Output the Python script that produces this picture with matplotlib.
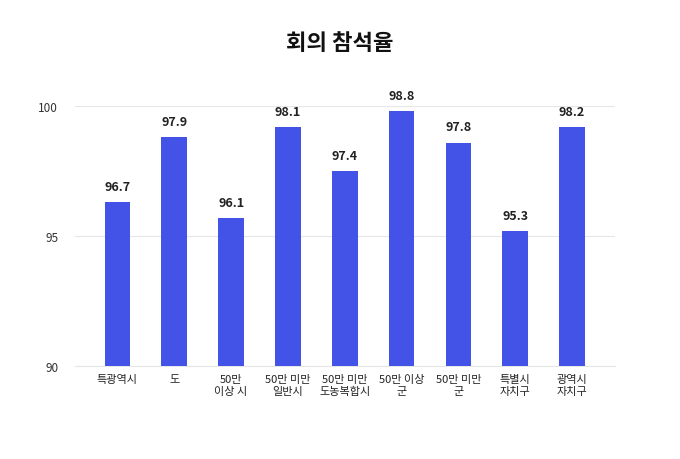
import matplotlib.pyplot as plt

plt.rcParams["font.family"] = "Noto Sans CJK KR"

categories = ["특광역시", "도", "50만\n이상 시", "50만 미만\n일반시", "50만 미만\n도농복합시",
              "50만 이상\n군", "50만 미만\n군", "특별시\n자치구", "광역시\n자치구"]
bar_values = [96.3, 98.8, 95.7, 99.2, 97.5, 99.8, 98.6, 95.2, 99.2]
label_texts = ["96.7", "97.9", "96.1", "98.1", "97.4", "98.8", "97.8", "95.3", "98.2"]
yticks = [90, 95, 100]

fig = plt.figure(figsize=(6.8, 4.6), dpi=100)
ax = fig.add_axes([0.110, 0.202, 0.794, 0.565])
x = range(len(categories))
ax.bar(x, [v - 90 for v in bar_values], bottom=90, width=0.45,
       color="#4353E8", clip_on=False, zorder=3)
for i, (v, t) in enumerate(zip(bar_values, label_texts)):
    ax.text(i, v + 0.35, t, ha="center", va="bottom", fontsize=9,
            fontweight="bold", color="#222222")

ax.set_ylim(90, 100)
ax.set_xlim(-0.75, len(categories) - 0.25)
ax.set_yticks(yticks)
ax.set_yticklabels([str(t) for t in yticks], fontsize=8.5, color="#333333")
ax.yaxis.grid(True, color="#e6e6e6", linewidth=0.8, zorder=0)
ax.set_xticks(list(x))
ax.set_xticklabels(categories, fontsize=8, color="#222222", linespacing=1.2)
ax.tick_params(length=0, pad=6)
ax.tick_params(axis="y", pad=12)
for s in ["top", "right", "left"]:
    ax.spines[s].set_visible(False)
ax.spines["bottom"].set_color("#e6e6e6")

fig.text(0.5, 0.905, "회의 참석율", ha="center", va="center",
         fontsize=16, fontweight="bold", color="#111111")

fig.savefig("out.png", dpi=100)
